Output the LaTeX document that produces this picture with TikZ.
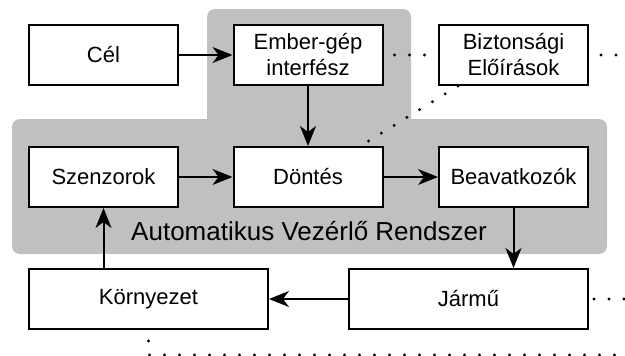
\documentclass[tikz,border=0pt]{standalone}
\usepackage{fontspec}
\setmainfont{Liberation Sans}
\usetikzlibrary{arrows.meta}

\begin{document}
\begin{tikzpicture}[x=1pt,y=-1pt,
  box/.style={draw=black, line width=2pt, fill=white, minimum width=149pt,
    minimum height=60pt, inner sep=0pt, align=center,
    font=\fontsize{22}{26}\selectfont},
  widebox/.style={box, minimum width=239pt},
  flow/.style={line width=2pt, -{Stealth[length=20pt,width=16pt,inset=6pt]}},
  dotline/.style={line width=3.2pt, line cap=round, dash pattern=on 0pt off 15pt},
  region/.style={fill=regiongray, rounded corners=8pt}
]
\definecolor{regiongray}{RGB}{192,192,192}
\useasboundingbox (0,0) rectangle (625,356);

% shaded area of the automatic control system
\fill[region] (207,9) rectangle (411,135);
\fill[region] (12,119) rectangle (607,254);

% blocks
\node[box] (cel)    at (103.5,55)  {Cél};
\node[box] (ember)  at (308,55)    {Ember-gép\\interfész};
\node[box] (bizt)   at (513.5,55)  {Biztonsági\\Előírások};
\node[box] (szenz)  at (103.5,177) {Szenzorok};
\node[box] (dontes) at (308,177)   {Döntés};
\node[box] (beav)   at (513.5,177) {Beavatkozók};
\node[widebox] (korny) at (148.5,299) {Környezet};
\node[widebox] (jarmu) at (468.5,299) {Jármű};

\node[anchor=base, inner sep=0pt, font=\fontsize{26}{30}\selectfont] (avr)
  at (309,240) {Automatikus Vezérlő Rendszer};

% signal flow
\draw[flow] (cel) -- (ember);
\draw[flow] (ember) -- (dontes);
\draw[flow] (szenz) -- (dontes);
\draw[flow] (dontes) -- (beav);
\draw[flow] (beav.south) -- (jarmu.north -| beav.south);
\draw[flow] (jarmu) -- (korny);
\draw[flow] (korny.north -| szenz.south) -- (szenz.south);

% dotted continuations
\coordinate (e1) at (625,55);
\coordinate (e2) at (625,299);
\coordinate (e3) at (625,355);
\draw[dotline, shorten <=11pt, shorten >=12pt] (ember) -- (bizt);
\draw[dotline, shorten <=12pt] (bizt.east) -- (e1);
\draw[dotline] ([xshift=20pt]bizt.south west) -- ([xshift=-23pt]dontes.north east);
\draw[dotline, shorten <=5pt] (jarmu.east) -- (e2);
\draw[dotline, shorten <=11pt] (korny.south) |- (e3);
\end{tikzpicture}
\end{document}
